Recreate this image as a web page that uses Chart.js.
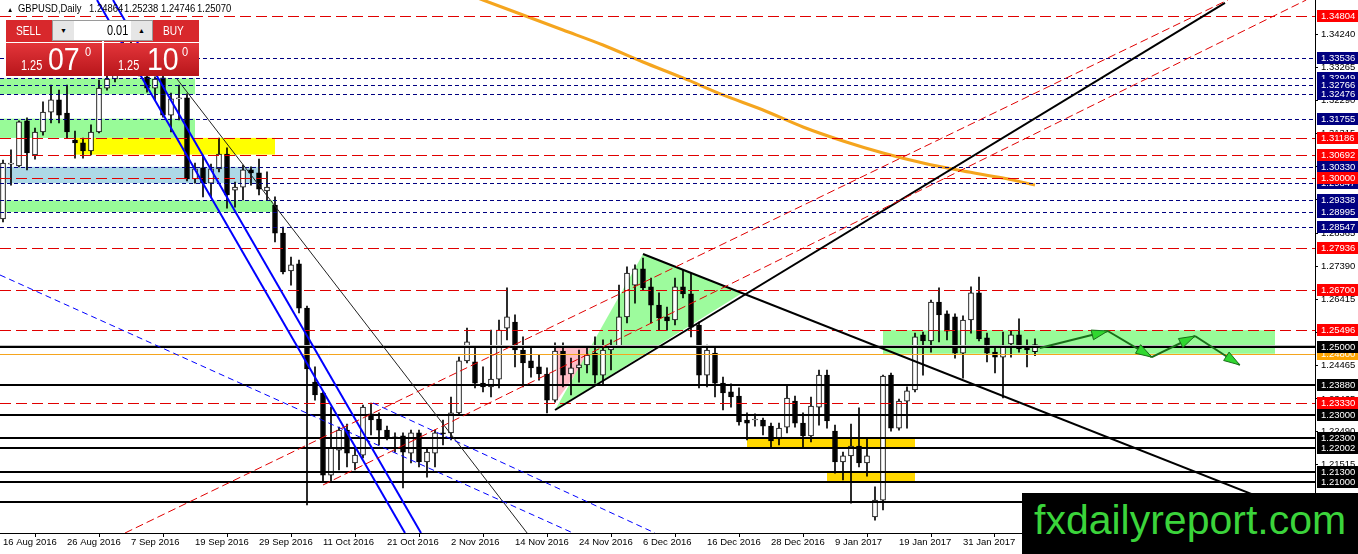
<!DOCTYPE html>
<html>
<head>
<meta charset="utf-8">
<script src="https://cdn.jsdelivr.net/npm/chart.js@4.4.0/dist/chart.umd.min.js"></script>
<style>
html, body { margin: 0; padding: 0; background: #fff; }
#wrap { position: relative; width: 1358px; height: 554px; overflow: hidden; }
#c { position: absolute; left: 0; top: 0; }
.mt { font-family: "Liberation Sans", sans-serif; }
.hdr { position: absolute; top: 2px; font-size: 10.5px; color: #000; white-space: nowrap; line-height: 12px; transform: scaleX(0.9); transform-origin: left top; }
.btn { position: absolute; top: 20px; height: 56px; }
.cap { position: absolute; left: 0; top: 0; width: 100%; height: 22px; background: #d8282c; color: #fff; font-size: 13px; line-height: 22px; }
.cap span { position: absolute; transform: scaleX(0.78); transform-origin: left center; }
.px { position: absolute; left: 0; top: 23px; width: 100%; height: 33px; background: linear-gradient(#e3353a, #b8161b); color: #fff; }
.px span { position: absolute; line-height: 1; white-space: nowrap; transform-origin: left top; }
.s { font-size: 14px; top: 15px; transform: scaleX(0.78); }
.b { font-size: 31px; top: 1px; transform: scaleX(0.92); }
.p { font-size: 13px; top: 2px; transform: scaleX(0.85); }
#lot { position: absolute; left: 52px; top: 20px; width: 101px; height: 21px; background: #fff; border: 1px solid #9a9a9a; box-sizing: border-box; }
#lot .ar { position: absolute; top: 0; width: 21px; height: 19px; background: #e6e6e6; font-size: 7px; line-height: 19px; text-align: center; color: #000; }
#lot .v { position: absolute; left: 54px; top: 0; height: 19px; line-height: 19px; font-size: 14px; color: #000; transform: scaleX(0.78); transform-origin: left center; }
#logo { position: absolute; left: 1022px; top: 493px; width: 336px; height: 61px; background: #000; }
#logo span { position: absolute; left: 12px; top: 7px; font-family: "Liberation Sans", sans-serif; font-size: 41px; line-height: 1; color: #3bd43b; white-space: nowrap; }
</style>
</head>
<body>
<div id="wrap">
  <canvas id="c" width="1358" height="554"></canvas>

  <div class="hdr mt" style="left:7px;font-size:7px;top:4px;">&#9650;</div>
  <div class="hdr mt" style="left:18px;">GBPUSD,Daily</div>
  <div class="hdr mt" style="left:89px;">1.24864</div>
  <div class="hdr mt" style="left:124px;">1.25238</div>
  <div class="hdr mt" style="left:161px;">1.24746</div>
  <div class="hdr mt" style="left:197px;">1.25070</div>

  <div class="btn mt" style="left:6px;width:96px;">
    <div class="cap"><span style="left:10px;">SELL</span></div>
    <div class="px"><span class="s" style="left:15px;">1.25</span><span class="b" style="left:42px;">07</span><span class="p" style="left:79px;">0</span></div>
  </div>
  <div class="btn mt" style="left:104px;width:95px;">
    <div class="cap"><span style="left:59px;">BUY</span></div>
    <div class="px"><span class="s" style="left:14px;">1.25</span><span class="b" style="left:43px;">10</span><span class="p" style="left:78px;">0</span></div>
  </div>
  <div id="lot" class="mt">
    <div class="ar" style="left:0;">&#9660;</div>
    <div class="v">0.01</div>
    <div class="ar" style="right:0;">&#9650;</div>
  </div>

  <div id="logo"><span>fxdailyreport.com</span></div>
</div>

<script>
// Daily candles, 16 Aug 2016 .. 13 Feb 2017 (index 0 .. 129)
const opens = [
  1.2879, 1.3041, 1.3036, 1.3169, 1.3068, 1.3136, 1.3195, 1.3231, 1.3192, 1.3112,
  1.3104, 1.3080, 1.3136, 1.3266, 1.3293, 1.3320, 1.3394, 1.3379, 1.3299, 1.3266,
  1.3296, 1.3186, 1.3234, 1.3237, 1.2997, 1.3030, 1.2985, 1.3027, 1.3071, 1.2964,
  1.2973, 1.3024, 1.3015, 1.2962, 1.2920, 1.2837, 1.2725, 1.2746, 1.2615, 1.2396,
  1.2364, 1.2121, 1.2195, 1.2254, 1.2157, 1.2180, 1.2302, 1.2287, 1.2254, 1.2234,
  1.2237, 1.2186, 1.2246, 1.2160, 1.2186, 1.2246, 1.2246, 1.2305, 1.2459, 1.2456,
  1.2393, 1.2382, 1.2405, 1.2556, 1.2574, 1.2491, 1.2459, 1.2441, 1.2420, 1.2343,
  1.2488, 1.2420, 1.2438, 1.2447, 1.2482, 1.2417, 1.2491, 1.2503, 1.2589, 1.2683,
  1.2731, 1.2678, 1.2624, 1.2589, 1.2580, 1.2678, 1.2657, 1.2565, 1.2417, 1.2482,
  1.2393, 1.2367, 1.2355, 1.2284, 1.2284, 1.2284, 1.2266, 1.2228, 1.2263, 1.2340,
  1.2275, 1.2237, 1.2322, 1.2417, 1.2251, 1.2160, 1.2178, 1.2207, 1.2157, 1.1997,
  1.2047, 1.2417, 1.2260, 1.2340, 1.2373, 1.2536, 1.2518, 1.2633, 1.2598, 1.2589,
  1.2482, 1.2580, 1.2660, 1.2527, 1.2485, 1.2470, 1.2509, 1.2536, 1.2503, 1.24864
];
const highs = [
  1.3053, 1.3083, 1.3169, 1.3178, 1.3148, 1.3225, 1.3275, 1.3260, 1.3275, 1.3139,
  1.3118, 1.3157, 1.3290, 1.3302, 1.3334, 1.3438, 1.3408, 1.3394, 1.3305, 1.3299,
  1.3305, 1.3251, 1.3275, 1.3249, 1.3044, 1.3068, 1.3041, 1.3118, 1.3089, 1.2988,
  1.3038, 1.3033, 1.3056, 1.3018, 1.2944, 1.2855, 1.2766, 1.2757, 1.2621, 1.2441,
  1.2367, 1.2322, 1.2263, 1.2272, 1.2204, 1.2328, 1.2334, 1.2305, 1.2266, 1.2246,
  1.2246, 1.2254, 1.2254, 1.2201, 1.2254, 1.2284, 1.2352, 1.2470, 1.2556, 1.2500,
  1.2441, 1.2550, 1.2580, 1.2675, 1.2595, 1.2530, 1.2500, 1.2476, 1.2438, 1.2512,
  1.2512, 1.2467, 1.2491, 1.2500, 1.2530, 1.2521, 1.2521, 1.2683, 1.2737, 1.2743,
  1.2763, 1.2704, 1.2660, 1.2618, 1.2704, 1.2728, 1.2719, 1.2574, 1.2506, 1.2500,
  1.2411, 1.2391, 1.2379, 1.2305, 1.2302, 1.2290, 1.2275, 1.2275, 1.2388, 1.2355,
  1.2305, 1.2352, 1.2432, 1.2432, 1.2269, 1.2189, 1.2272, 1.2320, 1.2228, 1.2086,
  1.2417, 1.2423, 1.2346, 1.2382, 1.2541, 1.2544, 1.2639, 1.2675, 1.2607, 1.2598,
  1.2592, 1.2678, 1.2707, 1.2541, 1.2503, 1.2544, 1.2547, 1.2583, 1.2521, 1.25238
];
const lows = [
  1.2870, 1.2979, 1.3033, 1.3024, 1.3056, 1.3127, 1.3163, 1.3163, 1.3118, 1.3059,
  1.3059, 1.3068, 1.3133, 1.3260, 1.3284, 1.3314, 1.3343, 1.3302, 1.3254, 1.3231,
  1.3180, 1.3136, 1.3172, 1.2991, 1.2985, 1.2944, 1.2944, 1.3018, 1.2911, 1.2914,
  1.2935, 1.2979, 1.2950, 1.2935, 1.2811, 1.2716, 1.2683, 1.2601, 1.2033, 1.2343,
  1.2101, 1.2101, 1.2136, 1.2145, 1.2136, 1.2172, 1.2240, 1.2210, 1.2225, 1.2189,
  1.2083, 1.2157, 1.2145, 1.2115, 1.2145, 1.2210, 1.2225, 1.2299, 1.2453, 1.2379,
  1.2367, 1.2352, 1.2379, 1.2521, 1.2441, 1.2382, 1.2411, 1.2402, 1.2305, 1.2337,
  1.2382, 1.2358, 1.2396, 1.2423, 1.2393, 1.2388, 1.2432, 1.2500, 1.2571, 1.2630,
  1.2669, 1.2571, 1.2550, 1.2550, 1.2565, 1.2645, 1.2530, 1.2379, 1.2382, 1.2352,
  1.2314, 1.2322, 1.2269, 1.2225, 1.2266, 1.2240, 1.2204, 1.2210, 1.2246, 1.2263,
  1.2204, 1.2219, 1.2269, 1.2260, 1.2127, 1.2107, 1.2038, 1.2145, 1.2118, 1.1988,
  1.2018, 1.2251, 1.2254, 1.2260, 1.2367, 1.2417, 1.2485, 1.2515, 1.2521, 1.2467,
  1.2408, 1.2541, 1.2518, 1.2456, 1.2423, 1.2349, 1.2470, 1.2485, 1.2441, 1.24746
];
const closes = [
  1.3044, 1.3043, 1.3166, 1.3074, 1.3136, 1.3195, 1.3231, 1.3186, 1.3136, 1.3104,
  1.3080, 1.3136, 1.3266, 1.3293, 1.3320, 1.3394, 1.3379, 1.3314, 1.3266, 1.3293,
  1.3186, 1.3234, 1.3237, 1.2997, 1.3027, 1.2985, 1.3027, 1.3071, 1.2950, 1.2973,
  1.3024, 1.3015, 1.2967, 1.2973, 1.2837, 1.2722, 1.2743, 1.2615, 1.2435, 1.2358,
  1.2121, 1.2201, 1.2254, 1.2186, 1.2180, 1.2322, 1.2284, 1.2254, 1.2234, 1.2231,
  1.2189, 1.2246, 1.2160, 1.2189, 1.2246, 1.2243, 1.2305, 1.2459, 1.2515, 1.2393,
  1.2382, 1.2405, 1.2550, 1.2589, 1.2491, 1.2453, 1.2438, 1.2420, 1.2343, 1.2488,
  1.2417, 1.2438, 1.2447, 1.2476, 1.2417, 1.2491, 1.2503, 1.2589, 1.2719, 1.2731,
  1.2675, 1.2624, 1.2586, 1.2577, 1.2678, 1.2657, 1.2559, 1.2417, 1.2491, 1.2393,
  1.2364, 1.2352, 1.2278, 1.2275, 1.2284, 1.2266, 1.2222, 1.2260, 1.2349, 1.2275,
  1.2237, 1.2325, 1.2417, 1.2281, 1.2160, 1.2178, 1.2207, 1.2157, 1.2178, 1.2047,
  1.2414, 1.2260, 1.2340, 1.2370, 1.2530, 1.2518, 1.2633, 1.2595, 1.2547, 1.2482,
  1.2580, 1.2660, 1.2524, 1.2482, 1.2470, 1.2506, 1.2536, 1.2494, 1.2491, 1.25070
];

// date axis labels (every 8th bar)
const tickIndex = [0, 8, 16, 24, 32, 40, 48, 56, 64, 72, 80, 88, 96, 104, 112, 120];
const tickLabels = ['16 Aug 2016', '26 Aug 2016', '7 Sep 2016', '19 Sep 2016', '29 Sep 2016',
  '11 Oct 2016', '21 Oct 2016', '2 Nov 2016', '14 Nov 2016', '24 Nov 2016', '6 Dec 2016',
  '16 Dec 2016', '28 Dec 2016', '9 Jan 2017', '19 Jan 2017', '31 Jan 2017'];

// price axis
const priceTicks = [1.34240, 1.33265, 1.32290, 1.31315, 1.30340, 1.29365, 1.28365, 1.27390,
  1.26415, 1.25440, 1.24465, 1.23465, 1.22490, 1.21515, 1.20540];
const yMin = 1.19497, yMax = 1.35266;

// moving average (orange)
const maIndex = [58, 60, 65, 70, 75, 80, 85, 90, 95, 100, 105, 110, 115, 120, 125, 129];
const maValues = [1.3544, 1.35266, 1.34822, 1.34379, 1.33935, 1.33432, 1.32959, 1.32456,
  1.32012, 1.31509, 1.31095, 1.30740, 1.30444, 1.30207, 1.30000, 1.29793];

// horizontal levels
const redLevels = [1.34804, 1.31186, 1.30692, 1.30000, 1.27936, 1.26700, 1.25496, 1.23330];
const navyLevels = [1.33536, 1.32949, 1.32766, 1.32476, 1.31755, 1.30330, 1.29847, 1.29338, 1.28995, 1.28547];
const blackLevels = [1.25000, 1.23880, 1.23000, 1.22300, 1.22002, 1.21300, 1.21000, 1.20420];
const orangeLevels = [1.24800];
const bidPrice = 1.25070;

// zones: [fromIndex, toIndex, priceTop, priceBottom, colour]
const zones = [
  [-0.4, 24, 1.32949, 1.32476, '#98fb98'],
  [-0.4, 24, 1.31755, 1.31186, '#98fb98'],
  [9, 34, 1.31186, 1.30692, '#ffff00'],
  [-0.4, 31.9, 1.30330, 1.29847, '#add8e6'],
  [-0.4, 33.75, 1.29338, 1.28995, '#98fb98'],
  [110, 159, 1.25496, 1.24800, '#98fb98'],
  [93, 114, 1.22300, 1.22002, '#ffd700'],
  [103, 114, 1.21300, 1.21000, '#ffd700']
];
const greenTriangle = [[69, 1.23136], [80, 1.27751], [92.4, 1.26598]];
const pinkTriangle = [[69, 1.25000], [69, 1.23340], [74, 1.25000]];

// trend lines: [[i0, p0], [i1, p1], colour, width, dash]
const trendLines = [
  [[80, 1.27751], [164, 1.19911], '#000', 2, []],
  [[69, 1.23136], [152.75, 1.35178], '#000', 2, []],
  [[21.75, 1.32929], [65.9, 1.19378], '#222', 1, []],
  [[11.75, 1.35266], [50.25, 1.19497], '#0000ff', 2, []],
  [[13.75, 1.35266], [52.25, 1.19497], '#0000ff', 2, []],
  [[-0.375, 1.27130], [71.25, 1.19497], '#0000ff', 1, [6, 4]],
  [[46.25, 1.23343], [81.5, 1.19497], '#0000ff', 1, [6, 4]],
  [[15.25, 1.19497], [153.1, 1.35266], '#e00000', 1, [8, 4]],
  [[40, 1.20917], [162.9, 1.35266], '#e00000', 1, [8, 4]]
];
// projected path (green arrows)
const pathIndex = [129.6, 138.1, 143.6, 149, 154.6];
const pathPrice = [1.2497, 1.25473, 1.2470, 1.25325, 1.24467];

const FONT = '"Liberation Sans", sans-serif';

const overlays = {
  id: 'overlays',
  beforeDatasetsDraw(chart) {
    const { ctx, chartArea: a, scales: { x, y } } = chart;
    ctx.save();
    ctx.beginPath();
    ctx.rect(a.left, a.top, a.right - a.left, a.bottom - a.top);
    ctx.clip();
    zones.forEach(z => {
      const x0 = x.getPixelForValue(z[0]), x1 = x.getPixelForValue(z[1]);
      const y0 = y.getPixelForValue(z[2]), y1 = y.getPixelForValue(z[3]);
      ctx.fillStyle = z[4];
      ctx.fillRect(x0, y0, x1 - x0, y1 - y0);
    });
    [[pinkTriangle, 'rgba(255,182,193,0.9)'], [greenTriangle, 'rgba(152,251,152,0.95)']].forEach(([tri, col]) => {
      ctx.beginPath();
      tri.forEach((p, k) => {
        const px = x.getPixelForValue(p[0]), py = y.getPixelForValue(p[1]);
        if (k === 0) ctx.moveTo(px, py); else ctx.lineTo(px, py);
      });
      ctx.closePath();
      ctx.fillStyle = col;
      ctx.fill();
    });
    ctx.restore();
  },
  afterDatasetsDraw(chart) {
    const { ctx, chartArea: a, scales: { x, y } } = chart;
    ctx.save();
    ctx.beginPath();
    ctx.rect(a.left, a.top, a.right - a.left, a.bottom - a.top);
    ctx.clip();
    const hline = (p, col, w, dash) => {
      const py = Math.round(y.getPixelForValue(p)) + (w % 2 ? 0.5 : 0);
      ctx.strokeStyle = col;
      ctx.lineWidth = w;
      ctx.setLineDash(dash);
      ctx.beginPath();
      ctx.moveTo(a.left, py);
      ctx.lineTo(a.right, py);
      ctx.stroke();
    };
    hline(bidPrice, '#c0c0c0', 1, []);
    orangeLevels.forEach(p => hline(p, '#f5a51e', 1, []));
    navyLevels.forEach(p => hline(p, '#000080', 1, [4, 3]));
    redLevels.forEach(p => hline(p, '#e00000', 1, [11, 5]));
    blackLevels.forEach(p => hline(p, '#000', 2, []));

    trendLines.forEach(t => {
      ctx.strokeStyle = t[2];
      ctx.lineWidth = t[3];
      ctx.setLineDash(t[4]);
      ctx.beginPath();
      ctx.moveTo(x.getPixelForValue(t[0][0]), y.getPixelForValue(t[0][1]));
      ctx.lineTo(x.getPixelForValue(t[1][0]), y.getPixelForValue(t[1][1]));
      ctx.stroke();
    });

    ctx.setLineDash([]);
    for (let k = 1; k < pathIndex.length; k++) {
      const x0 = x.getPixelForValue(pathIndex[k - 1]), y0 = y.getPixelForValue(pathPrice[k - 1]);
      const x1 = x.getPixelForValue(pathIndex[k]), y1 = y.getPixelForValue(pathPrice[k]);
      ctx.strokeStyle = '#1a6e1a';
      ctx.lineWidth = 2;
      ctx.beginPath();
      ctx.moveTo(x0, y0);
      ctx.lineTo(x1, y1);
      ctx.stroke();
      const ang = Math.atan2(y1 - y0, x1 - x0);
      const L = 16, W = 5;
      const bx = x1 - L * Math.cos(ang), by = y1 - L * Math.sin(ang);
      ctx.beginPath();
      ctx.moveTo(x1, y1);
      ctx.lineTo(bx + W * Math.sin(ang), by - W * Math.cos(ang));
      ctx.lineTo(bx - W * Math.sin(ang), by + W * Math.cos(ang));
      ctx.closePath();
      ctx.fillStyle = '#2fd82f';
      ctx.fill();
      ctx.strokeStyle = '#1a6e1a';
      ctx.lineWidth = 1;
      ctx.stroke();
    }
    ctx.restore();
  },
  afterDraw(chart) {
    const { ctx, scales: { y } } = chart;
    const right = chart.width;
    const left = y.left + 2;
    ctx.save();
    ctx.font = '9.5px ' + FONT;
    ctx.textBaseline = 'middle';
    const label = (p, bg, fg) => {
      const py = Math.round(y.getPixelForValue(p));
      ctx.fillStyle = bg;
      ctx.fillRect(left, py - 6, right - left, 12);
      ctx.fillStyle = fg;
      ctx.fillText(p.toFixed(5), left + 4, py + 0.5);
    };
    [...navyLevels].sort((a, b) => b - a).forEach(p => label(p, '#000080', '#fff'));
    orangeLevels.forEach(p => label(p, '#ffa500', '#fff'));
    blackLevels.forEach(p => label(p, '#000', '#fff'));
    redLevels.forEach(p => label(p, '#ff0000', '#fff'));
    ctx.restore();
  }
};

const bodyData = opens.map((o, i) => ({ x: i, y: [o, closes[i]] }));
const wickData = lows.map((l, i) => ({ x: i, y: [l, highs[i]] }));
const maData = maIndex.map((v, k) => ({ x: v, y: maValues[k] }));

new Chart(document.getElementById('c').getContext('2d'), {
  type: 'bar',
  data: {
    datasets: [
      {
        data: bodyData,
        backgroundColor: c => (closes[c.dataIndex] >= opens[c.dataIndex] ? '#fff' : '#000'),
        borderColor: '#000',
        borderWidth: 1,
        borderSkipped: false,
        barThickness: 5,
        minBarLength: 1,
        grouped: false
      },
      {
        data: wickData,
        backgroundColor: '#000',
        borderWidth: 0,
        barThickness: 1,
        grouped: false
      },
      {
        type: 'line',
        data: maData,
        borderColor: '#f5a51e',
        borderWidth: 3,
        pointRadius: 0,
        cubicInterpolationMode: 'monotone'
      }
    ]
  },
  options: {
    responsive: false,
    animation: false,
    layout: { padding: 0 },
    plugins: { legend: { display: false }, tooltip: { enabled: false } },
    scales: {
      x: {
        type: 'linear',
        min: -0.375,
        max: 164,
        offset: false,
        afterBuildTicks: s => { s.ticks = tickIndex.map(v => ({ value: v })); },
        afterFit: s => { s.height = 21; s.paddingLeft = 0; s.paddingRight = 0; },
        grid: { drawOnChartArea: false, color: '#000', tickLength: 4 },
        border: { color: '#000' },
        ticks: {
          autoSkip: false,
          maxRotation: 0,
          minRotation: 0,
          align: 'start',
          padding: 0,
          color: '#000',
          font: { family: FONT, size: 9.5 },
          callback: v => { const k = tickIndex.indexOf(v); return k >= 0 ? tickLabels[k] : ''; }
        }
      },
      y: {
        type: 'linear',
        position: 'right',
        min: yMin,
        max: yMax,
        afterBuildTicks: s => { s.ticks = priceTicks.map(v => ({ value: v })); },
        afterFit: s => { s.width = 43; s.paddingTop = 0; s.paddingBottom = 0; },
        grid: { drawOnChartArea: false, color: '#000', tickLength: 3 },
        border: { color: '#000' },
        ticks: {
          autoSkip: false,
          padding: 3,
          color: '#000',
          font: { family: FONT, size: 9.5 },
          callback: v => v.toFixed(5)
        }
      }
    }
  },
  plugins: [overlays]
});
</script>
</body>
</html>
